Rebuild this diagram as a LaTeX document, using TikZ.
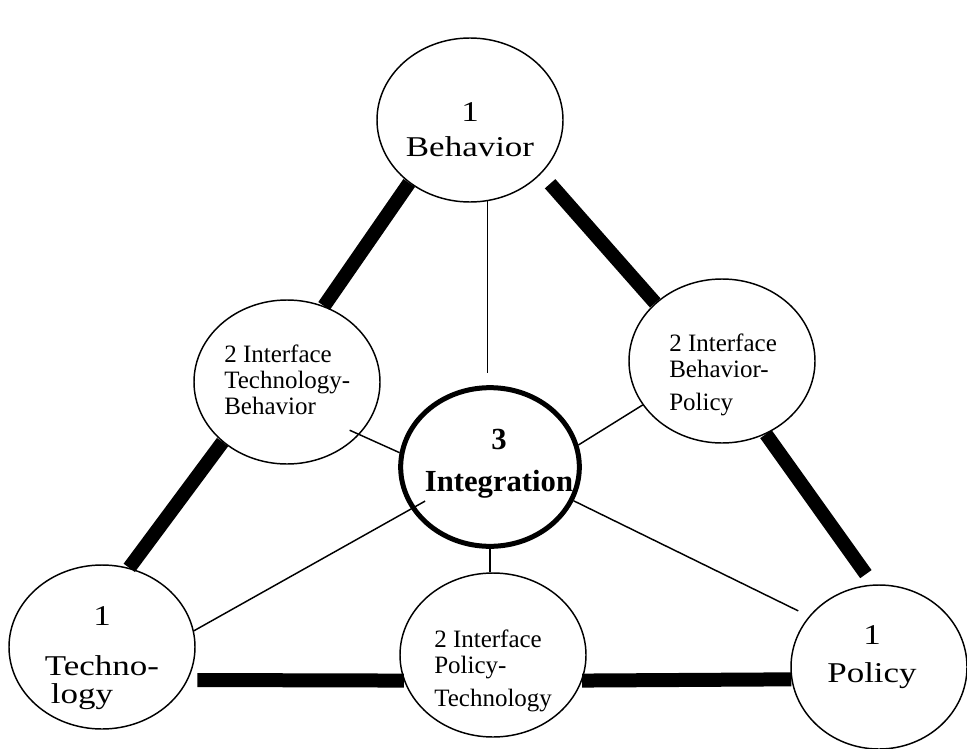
\documentclass[tikz,border=0pt]{standalone}
\usepackage{fontspec}
\setmainfont{Liberation Serif}
\newfontfamily\widefont[FakeStretch=1.22]{Liberation Serif}
\usetikzlibrary{shapes.geometric}

\begin{document}
\begin{tikzpicture}[x=0.75pt,y=-0.75pt,
	disc/.style={ellipse,draw,line width=1.1pt,inner sep=0pt,minimum width=139.5pt,minimum height=123pt},
	hub/.style={disc,line width=3.75pt,minimum width=134pt,minimum height=119pt},
	link/.style={line width=10.5pt},
	tie/.style={line width=1.1pt},
	big/.style={font=\widefont\fontsize{21.5}{26}\selectfont,align=center,inner sep=0pt},
	small/.style={font=\fontsize{18.75}{19.5}\selectfont,align=left,inner sep=0pt,anchor=west}]
		\useasboundingbox[fill=white] (0,0) rectangle (967,749);
		
		%circles
		\node[disc] (beh) at (470,120) {};
		\node[disc] (tb) at (287,382) {};
		\node[disc] (bp) at (722,361) {};
		\node[hub] (int) at (490,467) {};
		\node[disc] (tec) at (102,647) {};
		\node[disc] (pt) at (493,655) {};
		\node[disc,minimum width=132pt] (pol) at (879,667) {};
		
		%labels
		\node[big] (behT) at (470,130) {1\\Behavior};
		\node[big] (tecT) at (102,658) {1\\[11.5pt]Techno-\\[-5pt]logy\hspace*{30pt}};
		\node[big] (polT) at (872,657) {1\\[2.5pt]Policy};
		\node[big,font=\bfseries\fontsize{23}{31.5}\selectfont] (intT) at (499,464) {3\\Integration};
		\node[small] (tbT) at (224,380) {2 Interface\\Technology-\\Behavior};
		\node[small] (bpT) at (669,375) {2 Interface\\Behavior-\\[5pt]Policy};
		\node[small] (ptT) at (434,671) {2 Interface\\Policy-\\[5pt]Technology};
		
		%thick links
		\draw[link] (beh.226) -- (tb.64);
		\draw[link,shorten <=10pt] (beh.323) -- (bp.139);
		\draw[link] (tb.223) -- (tec.71);
		\draw[link,shorten >=9.5pt] (bp.301) -- (pol.94);
		\draw[link,shorten <=7pt] (tec.339) -- (pt.196);
		\draw[link] (pt.344) -- (pol.188);
		
		%thin links
		\draw[tie,shorten >=9pt] (beh.282) -- (beh.282 |- int.north);
		\draw[tie,shorten <=-8pt] (tb.324) -- (int.171);
		\draw[tie] (bp.209) -- (int.14);
		\draw[tie,shorten <=-12pt] (int.208) -- (tec.10);
		\draw[tie,shorten >=9pt] (int.338) -- (pol.144);
		\draw[tie] (int.south) -- (int.south |- pt.north);
		\end{tikzpicture}
\end{document}
